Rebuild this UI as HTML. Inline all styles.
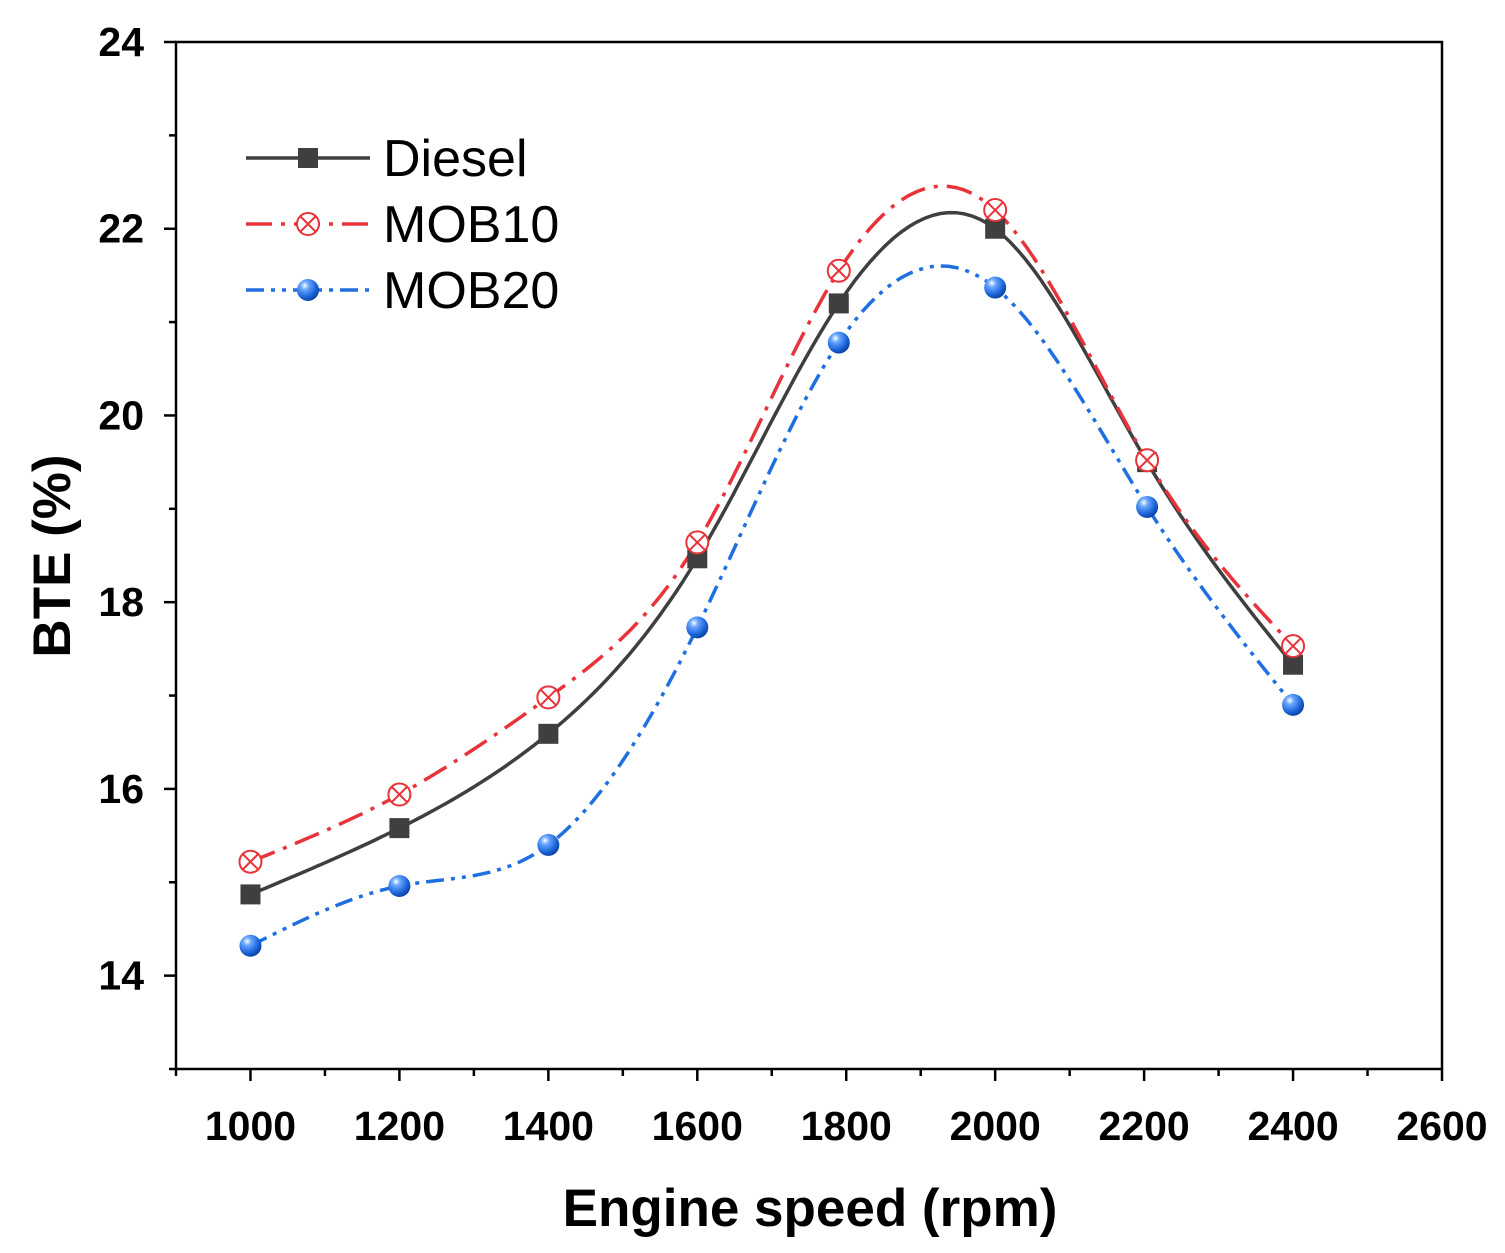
<!DOCTYPE html>
<html><head><meta charset="utf-8"><style>
body{margin:0;background:#fff;}
svg{display:block;font-family:"Liberation Sans",Arial,sans-serif;}
</style></head><body>
<svg id="chart" width="1505" height="1253" viewBox="0 0 1505 1253">
<defs>
<radialGradient id="ball" cx="0.35" cy="0.3" r="0.75">
<stop offset="0" stop-color="#ffffff"/><stop offset="0.25" stop-color="#6aa6ff"/><stop offset="0.7" stop-color="#1a63d8"/><stop offset="1" stop-color="#0b3f9a"/>
</radialGradient>
</defs>
<g id="grid"></g>
<g id="series"></g>
<g id="legend"></g>
</svg>
<script>
const xTicks=[1000,1200,1400,1600,1800,2000,2200,2400,2600];
const yTicks=[14,16,18,20,22,24];
const speeds=[1000,1200,1400,1600,1790,2000,2204,2400];
const diesel=[14.87,15.58,16.59,18.47,21.2,22.0,19.5,17.33];
const mob10=[15.22,15.94,16.98,18.64,21.55,22.2,19.52,17.53];
const mob20=[14.32,14.96,15.40,17.73,20.78,21.37,19.02,16.90];
const seriesNames=["Diesel","MOB10","MOB20"];

const L=176,R=1442,T=42,B=1069,xmin=900,xmax=2600,ymin=13,ymax=24;
const sx=v=>L+(v-xmin)/(xmax-xmin)*(R-L);
const sy=v=>B-(v-ymin)/(ymax-ymin)*(B-T);
const NS="http://www.w3.org/2000/svg";
function mk(tag,attrs,parent){const e=document.createElementNS(NS,tag);for(const k in attrs)e.setAttribute(k,attrs[k]);parent.appendChild(e);return e;}
const g=document.getElementById('grid'),sg=document.getElementById('series'),lg=document.getElementById('legend');

let frame=mk('rect',{x:L,y:T,width:R-L,height:B-T,fill:'none',stroke:'#000','stroke-width':2.5},g);


for(let v=900;v<=2600;v+=100){
  const major=xTicks.includes(v);
  let t=mk('line',{x1:sx(v),x2:sx(v),y1:B,y2:B+(major?12:7),stroke:'#000','stroke-width':2.5},g);
  
  
}
xTicks.forEach(v=>{
  let t=mk('text',{x:sx(v),y:1140,'text-anchor':'middle','font-size':41,'font-weight':'bold'},g);t.textContent=v;
  
  
});
for(let v=13;v<=24;v++){
  const major=yTicks.includes(v);
  let t=mk('line',{x1:L,x2:L-(major?12:7),y1:sy(v),y2:sy(v),stroke:'#000','stroke-width':2.5},g);
  
  
}
yTicks.forEach(v=>{
  let t=mk('text',{x:144,y:sy(v)+14,'text-anchor':'end','font-size':41,'font-weight':'bold'},g);t.textContent=v;
  
  
});
let xt=mk('text',{x:810,y:1226,'text-anchor':'middle','font-size':53,'font-weight':'bold'},g);xt.textContent='Engine speed (rpm)';


let yt=mk('text',{x:0,y:0,'text-anchor':'middle','font-size':53,'font-weight':'bold',transform:'translate(70,556) rotate(-90)'},g);yt.textContent='BTE (%)';



function spline(xs,ys){
  const n=xs.length,h=[],al=[],l=[1],mu=[0],z=[0],c=new Array(n).fill(0),b=[],d=[];
  for(let i=0;i<n-1;i++)h.push(xs[i+1]-xs[i]);
  for(let i=1;i<n-1;i++)al[i]=3/h[i]*(ys[i+1]-ys[i])-3/h[i-1]*(ys[i]-ys[i-1]);
  for(let i=1;i<n-1;i++){l[i]=2*(xs[i+1]-xs[i-1])-h[i-1]*mu[i-1];mu[i]=h[i]/l[i];z[i]=(al[i]-h[i-1]*z[i-1])/l[i];}
  l[n-1]=1;z[n-1]=0;
  for(let j=n-2;j>=0;j--){c[j]=z[j]-mu[j]*c[j+1];b[j]=(ys[j+1]-ys[j])/h[j]-h[j]*(c[j+1]+2*c[j])/3;d[j]=(c[j+1]-c[j])/(3*h[j]);}
  let p='';
  for(let i=0;i<n-1;i++)for(let k=0;k<=20;k++){const dx=h[i]*k/20;const y=ys[i]+b[i]*dx+c[i]*dx*dx+d[i]*dx*dx*dx;p+=(p?'L':'M')+sx(xs[i]+dx).toFixed(1)+','+sy(y).toFixed(1);}
  return p;
}
const styles=[
 {color:'#3f3f3f',dash:'',w:3.5},
 {color:'#e8333a',dash:'26 9 4 9',w:3.5},
 {color:'#1f6fe0',dash:'18 7 4 7 4 7',w:3.5}];
function marker(i,x,y,parent){
  let m;
  if(i===0){m=mk('rect',{x:x-10,y:y-10,width:20,height:20,fill:'#3f3f3f'},parent);}
  else if(i===1){m=mk('g',{},parent);
    mk('circle',{cx:x,cy:y,r:11,fill:'#fff',stroke:'#e8333a','stroke-width':2},m);
    mk('path',{d:`M${x-8},${y-8}L${x+8},${y+8}M${x-8},${y+8}L${x+8},${y-8}`,stroke:'#e8333a','stroke-width':2},m);}
  else {m=mk('circle',{cx:x,cy:y,r:11,fill:'url(#ball)'},parent);}
  return m;
}
[diesel,mob10,mob20].forEach((vals,i)=>{
  const s=styles[i];
  let p=mk('path',{d:spline(speeds,vals),fill:'none',stroke:s.color,'stroke-width':s.w,'stroke-dasharray':s.dash},sg);
  
  
});
[diesel,mob10,mob20].forEach((vals,i)=>{
  vals.forEach((v,j)=>{
    const m=marker(i,sx(speeds[j]),sy(v),sg);
    
    
  });
});
seriesNames.forEach((nm,i)=>{
  const y=158+i*66,s=styles[i];
  let e=mk('g',{},lg);
  
  
  mk('line',{x1:246,x2:370,y1:y,y2:y,stroke:s.color,'stroke-width':s.w,'stroke-dasharray':s.dash},e);
  marker(i,308,y,e);
  let t=mk('text',{x:383,y:y+18,'font-size':52},e);t.textContent=nm;
});
</script>
</body></html>
